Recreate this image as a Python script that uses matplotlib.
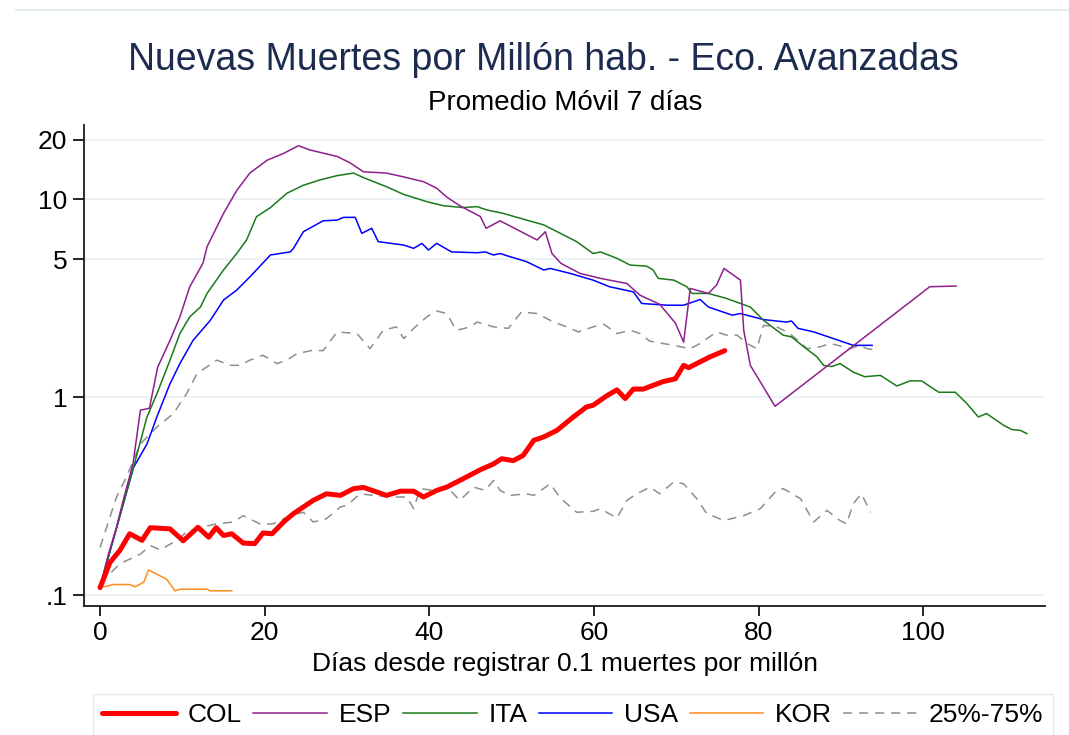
import matplotlib
matplotlib.use("Agg")
import matplotlib.pyplot as plt
from matplotlib.lines import Line2D

plt.rcParams['font.family'] = ['Liberation Sans', 'DejaVu Sans']

# ---------------- data (days since 0.1 deaths/million, deaths per million, 7-day MA)
ESP_x = [0, 1, 2, 2.8, 4, 4.9, 6, 7, 8.5, 9.7, 10.9, 12.5, 13, 15, 16.6, 18.2, 20.3, 22.3, 24.1,
         25.5, 28.8, 30.4, 32, 34.8, 36.9, 39.3, 40.9, 42.1, 43.7, 46.2, 46.9, 48.6, 53.1, 54.1,
         54.9, 56, 58.3, 60.8, 64, 65.6, 68, 69.9, 70.9, 71.7, 73.9, 74.9, 75.8, 77.8, 78.2, 79,
         82, 100.8, 104]
ESP_v = [0.11, 0.16, 0.22, 0.30, 0.46, 0.86, 0.88, 1.42, 1.94, 2.55, 3.62, 4.76, 5.77, 8.5, 11.1,
         13.6, 15.8, 17.1, 18.7, 17.8, 16.5, 15.3, 13.8, 13.6, 13.0, 12.3, 11.4, 10.3, 9.3, 8.2,
         7.15, 7.8, 6.24, 6.87, 5.33, 4.75, 4.23, 3.99, 3.76, 3.28, 2.95, 2.37, 1.9, 3.55, 3.35,
         3.69, 4.48, 3.91, 2.18, 1.45, 0.9, 3.62, 3.65]

ITA_x = [0, 4.05, 5.7, 6.9, 8.5, 9.7, 10.9, 12.2, 13, 15, 16.6, 17.8, 19, 20.7, 22.7, 24.7, 26.7,
         28.8, 30.8, 32, 34.8, 36.9, 39.7, 41.7, 44.1, 45.8, 47, 49, 51.8, 53.9, 55.9, 57.9, 59.9,
         60.8, 62.8, 64.4, 66.4, 67.2, 67.8, 69.7, 71.3, 71.9, 73.9, 76.1, 77.8, 79, 80.6, 82.2,
         83, 84, 85.5, 87.1, 87.9, 88.9, 89.9, 91.5, 92.9, 94.8, 96.8, 98.4, 99.8, 101.9, 103.9,
         105.3, 106.7, 107.7, 109.8, 110.8, 111.8, 112.6]
ITA_v = [0.11, 0.44, 0.795, 1.04, 1.54, 2.1, 2.55, 2.86, 3.35, 4.4, 5.33, 6.24, 8.18, 9.1, 10.75,
         11.8, 12.55, 13.2, 13.6, 12.9, 11.6, 10.6, 9.75, 9.3, 9.1, 9.2, 8.85, 8.5, 7.87, 7.44,
         6.75, 6.12, 5.33, 5.43, 5.04, 4.66, 4.6, 4.4, 3.99, 3.91, 3.62, 3.35, 3.35, 3.16, 2.98,
         2.86, 2.45, 2.18, 2.06, 2.02, 1.8, 1.6, 1.45, 1.43, 1.48, 1.34, 1.27, 1.29, 1.14, 1.21,
         1.21, 1.06, 1.06, 0.93, 0.795, 0.827, 0.72, 0.686, 0.68, 0.655]

USA_x = [0, 4.05, 5.7, 6.9, 8.5, 9.7, 11.3, 13.4, 15, 16.6, 18.2, 20.7, 23.1, 23.5, 24.7, 27.1,
         28.8, 29.6, 31, 31.8, 33, 33.8, 36.9, 38.1, 39.1, 39.9, 40.9, 42.7, 45.8, 46.8, 47.8,
         48.6, 49.8, 51.8, 53.9, 54.7, 57.1, 59.9, 61.9, 64.8, 65.8, 68.9, 70.9, 72.9, 73.9, 76.8,
         77.8, 80.6, 83.4, 84, 84.8, 86.7, 89.1, 91.5, 93.8]
USA_v = [0.11, 0.44, 0.58, 0.795, 1.17, 1.48, 1.94, 2.45, 3.1, 3.48, 4.06, 5.24, 5.43, 5.66, 6.87,
         7.8, 7.87, 8.12, 8.12, 6.74, 7.15, 6.12, 5.88, 5.66, 6.0, 5.55, 6.0, 5.43, 5.38, 5.43,
         5.24, 5.33, 5.14, 4.85, 4.4, 4.48, 4.23, 3.91, 3.62, 3.41, 2.98, 2.92, 2.92, 3.12, 2.86,
         2.6, 2.65, 2.47, 2.4, 2.43, 2.23, 2.14, 1.98, 1.83, 1.83]

KOR_x = [0, 1.6, 3.6, 4.25, 5.3, 5.9, 8.1, 9.1, 9.7, 13, 13.4, 16]
KOR_v = [0.109, 0.113, 0.113, 0.11, 0.116, 0.134, 0.12, 0.105, 0.107, 0.107, 0.105, 0.105]

COL_x = [0, 1.2, 2.4, 3.6, 5.1, 6.1, 8.5, 10.1, 11.9, 13.2, 14.1, 15, 16, 17.4, 18.8, 19.8, 20.9,
         22.3, 23.5, 25.9, 27.5, 29.2, 30.8, 32, 34.8, 36.5, 38.1, 39.3, 40.9, 42.1, 44.1, 46.2,
         47.8, 48.8, 50.2, 51.4, 52.7, 53.9, 55.5, 57.5, 59.1, 59.9, 61.6, 62.8, 63.8, 64.8, 66,
         68.4, 69.9, 70.9, 71.5, 72.9, 74.1, 75.9]
COL_v = [0.109, 0.146, 0.168, 0.204, 0.189, 0.219, 0.216, 0.188, 0.22, 0.196, 0.219, 0.2, 0.204,
         0.183, 0.182, 0.206, 0.204, 0.234, 0.258, 0.301, 0.325, 0.319, 0.345, 0.35, 0.319, 0.335,
         0.335, 0.313, 0.338, 0.351, 0.387, 0.43, 0.46, 0.489, 0.478, 0.508, 0.606, 0.63, 0.68,
         0.795, 0.893, 0.911, 1.02, 1.09, 0.985, 1.1, 1.1, 1.2, 1.24, 1.45, 1.41, 1.51, 1.6, 1.72]

Q75_x = [0, 2, 3.2, 4.9, 6.9, 8.9, 10.5, 11.8, 14.2, 15.8, 17, 18.2, 19.8, 21.5, 22.7, 23.9, 25.9,
         27.1, 28.8, 31.2, 32.8, 34.4, 36, 36.9, 38.1, 39.7, 40.9, 42.1, 43.3, 45, 45.8, 47.8,
         49.6, 51.2, 53.1, 55.1, 56.7, 58.1, 59.9, 61.2, 62.8, 64.4, 65.6, 66.8, 69.7, 71.7, 72.9,
         74.9, 76.1, 77.4, 78.6, 79.8, 80.6, 82.2, 83.8, 85.9, 87.5, 88.7, 90.3, 91.1, 92.3, 93.2,
         94]
Q75_v = [0.174, 0.313, 0.395, 0.58, 0.707, 0.826, 1.04, 1.32, 1.54, 1.45, 1.45, 1.54, 1.63, 1.48,
         1.54, 1.66, 1.73, 1.72, 2.14, 2.1, 1.76, 2.18, 2.27, 1.98, 2.23, 2.55, 2.73, 2.65, 2.18,
         2.27, 2.4, 2.27, 2.23, 2.7, 2.65, 2.4, 2.27, 2.14, 2.27, 2.34, 2.1, 2.18, 2.1, 1.92,
         1.83, 1.76, 1.87, 2.14, 2.06, 2.06, 1.87, 1.76, 2.31, 2.27, 2.1, 1.76, 1.8, 1.87, 1.8,
         1.76, 1.83, 1.76, 1.74]

Q25_x = [0, 2.4, 4.9, 6.1, 7.3, 9.3, 10.5, 12.2, 14.2, 16.2, 17.4, 18.6, 19.6, 21, 23.1, 24.7,
         25.9, 27.5, 29.2, 30, 31.6, 33.2, 35.3, 37.3, 38.1, 38.9, 40.5, 42.1, 43.7, 45.4, 46.8,
         47.8, 48.6, 49.8, 51.8, 52.7, 54.7, 55.9, 57.9, 59.9, 60.8, 62.8, 64, 65.2, 66.8, 68,
         69.7, 70.9, 72.5, 73.7, 75.8, 78.2, 80.2, 82.2, 83, 85.1, 86.7, 88.3, 89.9, 90.7, 91.5,
         92.5, 93.6]
Q25_v = [0.114, 0.144, 0.161, 0.178, 0.169, 0.189, 0.208, 0.22, 0.229, 0.234, 0.252, 0.238, 0.227,
         0.229, 0.252, 0.262, 0.234, 0.243, 0.279, 0.284, 0.325, 0.319, 0.313, 0.313, 0.273,
         0.345, 0.338, 0.354, 0.301, 0.351, 0.338, 0.38, 0.338, 0.319, 0.325, 0.319, 0.365, 0.31,
         0.262, 0.265, 0.273, 0.245, 0.301, 0.325, 0.351, 0.325, 0.373, 0.365, 0.307, 0.258,
         0.238, 0.252, 0.273, 0.338, 0.345, 0.307, 0.234, 0.268, 0.238, 0.229, 0.29, 0.325, 0.262]

y_ticks = [0.1, 1, 5, 10, 20]
y_ticklabels = ['.1', '1', '5', '10', '20']
x_ticks = [0, 20, 40, 60, 80, 100]

TITLE = "Nuevas Muertes por Millón hab. - Eco. Avanzadas"
SUBTITLE = "Promedio Móvil 7 días"
XLABEL = "Días desde registrar 0.1 muertes por millón"

# ---------------- figure
W, H = 1069, 735
fig = plt.figure(figsize=(W / 100, H / 100), dpi=100)
fig.patch.set_facecolor('white')

ax = fig.add_axes([84 / W, 1 - 606 / H, (1045 - 84) / W, (606 - 125) / H])
ax.set_yscale('log')
ax.set_ylim(0.088, 23.8)
ax.set_xlim(-1.95, 114.8)

grey = '#8e8e8e'
dash = (0, (6, 4.5))
ax.plot(Q75_x, Q75_v, color=grey, lw=1.1, ls=dash, zorder=2, label='25%-75%')
ax.plot(Q25_x, Q25_v, color=grey, lw=1.1, ls=dash, zorder=2)
l_kor, = ax.plot(KOR_x, KOR_v, color='#ff8c1a', lw=1.1, zorder=3, label='KOR')
l_usa, = ax.plot(USA_x, USA_v, color='#0000ff', lw=1.1, zorder=3, label='USA')
l_ita, = ax.plot(ITA_x, ITA_v, color='#1a7a1a', lw=1.1, zorder=3, label='ITA')
l_esp, = ax.plot(ESP_x, ESP_v, color='#8e1f8e', lw=1.1, zorder=3, label='ESP')
l_col, = ax.plot(COL_x, COL_v, color='#ff0000', lw=3.6, zorder=4, label='COL',
                 solid_capstyle='round', solid_joinstyle='round')
l_q = Line2D([], [], color=grey, lw=1.1, ls=dash)

ax.set_yticks(y_ticks)
ax.set_yticklabels(y_ticklabels)
ax.yaxis.set_minor_locator(matplotlib.ticker.NullLocator())
ax.set_xticks(x_ticks)
ax.grid(axis='y', color='#e9f1f2', lw=1.2, zorder=0)
ax.set_axisbelow(True)
for s in ['top', 'right']:
    ax.spines[s].set_visible(False)
for s in ['left', 'bottom']:
    ax.spines[s].set_linewidth(1.3)
    ax.spines[s].set_color('#1a1a1a')
ax.tick_params(axis='y', length=8, width=1.2, pad=4, labelsize=19)
ax.tick_params(axis='x', length=7, width=1.2, pad=4, labelsize=19)
ax.set_xlabel(XLABEL, fontsize=19, labelpad=5)

fig.text(543 / W, 1 - 60 / H, TITLE, ha='center', va='center', fontsize=27, color='#1c2b4e')
fig.text(565 / W, 1 - 103 / H, SUBTITLE, ha='center', va='center', fontsize=20, color='black')

fig.add_artist(Line2D([16 / W, 1], [1 - 10 / H, 1 - 10 / H], transform=fig.transFigure,
                      color='#e3ebed', lw=1.5))

leg = fig.legend([l_col, l_esp, l_ita, l_usa, l_kor, l_q],
                 ['COL', 'ESP', 'ITA', 'USA', 'KOR', '25%-75%'],
                 ncol=6, loc='upper left', bbox_to_anchor=(93 / W, 1 - 694 / H),
                 fontsize=19, handlelength=2.8, handletextpad=0.45, columnspacing=0.42,
                 borderaxespad=0, borderpad=0.35, frameon=True, fancybox=False)
leg.get_frame().set_edgecolor('#dfe7ea')
leg.get_frame().set_linewidth(1.0)

fig.savefig('out.png', dpi=100, facecolor='white')
